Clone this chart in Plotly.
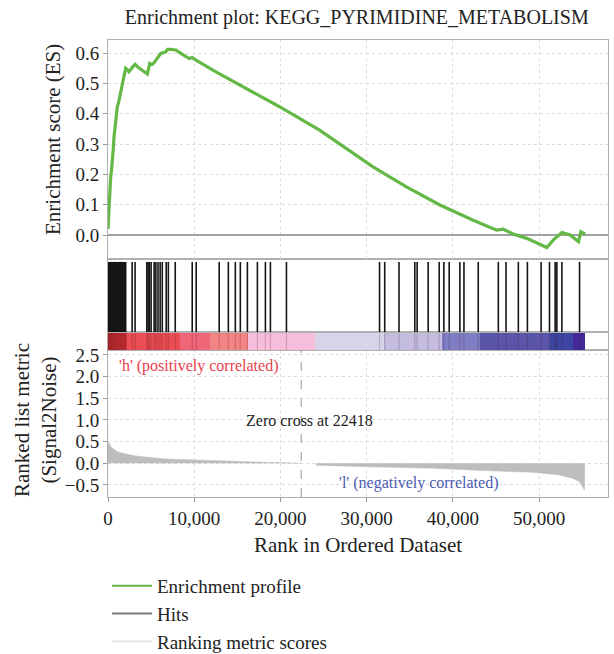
import plotly.graph_objects as go

# ---------------- data ----------------
es_rank = [0, 60, 116, 200, 310, 400, 500, 600, 700, 800, 890, 1000, 1080, 1250, 1470, 1600,
           1740, 1900, 2050, 2250, 2440, 2800, 3140, 3500, 3800, 4200, 4570, 4840, 5100, 5350,
           5740, 6130, 6710, 6900, 7300, 7870, 8450, 9420, 9770, 10200, 12520, 15230, 19890,
           24540, 26860, 29190, 30740, 34620, 38500, 42370, 45080, 45860, 47020, 48570, 50120,
           50900, 51670, 52650, 53610, 54580, 54860, 55360]
es_value = [0.02, 0.06, 0.105, 0.15, 0.19, 0.21, 0.236, 0.28, 0.324, 0.35, 0.38, 0.40, 0.423,
            0.44, 0.467, 0.49, 0.511, 0.53, 0.55, 0.545, 0.538, 0.552, 0.563, 0.553, 0.546, 0.54,
            0.531, 0.566, 0.562, 0.568, 0.582, 0.599, 0.604, 0.612, 0.612, 0.61, 0.599, 0.582,
            0.585, 0.577, 0.538, 0.495, 0.423, 0.346, 0.30, 0.255, 0.225, 0.159, 0.099, 0.049,
            0.016, 0.019, 0.003, -0.011, -0.03, -0.041, -0.016, 0.008, 0.0, -0.022, 0.011, 0.003]

hit_ranks = [30, 80, 150, 220, 300, 380, 450, 520, 600, 700, 780, 850, 950, 1050, 1150, 1250,
             1350, 1450, 1550, 1650, 1750, 1850, 1950, 2050, 2800, 3140, 4500, 4650, 4800, 5000,
             5350, 5550, 5800, 6050, 6300, 6750, 7000, 7800, 9770, 10230, 12900, 13960, 14770,
             15350, 16170, 17330, 18260, 18840, 20700, 31500, 32100, 33760, 35590, 35860, 37140,
             38420, 38960, 39580, 40820, 41290, 42950, 45280, 46170, 47600, 48650, 50240, 51210,
             51870, 52070, 52650, 54700]

metric_pos_rank = [0, 100, 300, 560, 850, 1140, 1500, 1910, 2400, 2880, 3800, 4810, 5800, 6750,
                   8680, 10600, 12930, 14500, 16200, 18500, 20500, 22418]
metric_pos_value = [0.50, 0.45, 0.39, 0.34, 0.30, 0.26, 0.24, 0.22, 0.20, 0.18, 0.155, 0.13,
                    0.115, 0.10, 0.085, 0.07, 0.053, 0.042, 0.03, 0.02, 0.012, 0.0]
metric_neg_rank = [24140, 24150, 29950, 37670, 43470, 49270, 52370, 53920, 54690, 55070, 55270, 55300]
metric_neg_value = [0.0, -0.045, -0.08, -0.115, -0.17, -0.21, -0.27, -0.35, -0.43, -0.54, -0.62, 0.0]

zero_cross = 22418

bar_edges = [0, 2150, 8300, 11800, 16200, 24000, 32000, 38800, 43200, 51300, 53900, 55300]
bar_colors = ['#d6363c', '#ea4d54', '#ef6679', '#f28484', '#f6bedb', '#d7d4ea', '#c3bcdf',
              '#7f7ec4', '#5b55aa', '#3c46a2', '#44299a']

x_ticks = [0, 10000, 20000, 30000, 40000, 50000]

FONT = "'Liberation Serif', 'Times New Roman', Times, serif"
GRID = '#dcdcdc'
AXL = '#b0b0b0'

fig = go.Figure()

# colour bar
n = len(bar_colors)
cs = []
for i, c in enumerate(bar_colors):
    cs.append([i / n, c])
    cs.append([(i + 1) / n, c])
fig.add_trace(go.Heatmap(x=bar_edges, y=[0, 1], z=[[i + 0.5 for i in range(n)]],
                         zmin=0, zmax=n, colorscale=cs, showscale=False,
                         xaxis='x2', yaxis='y2', hoverinfo='skip'))
# faint hit stripes across the colour bar
sx, sy = [], []
for r in hit_ranks:
    sx += [r, r, None]
    sy += [0, 1, None]
fig.add_trace(go.Scatter(x=sx, y=sy, mode='lines', line=dict(color='rgba(60,0,0,0.18)', width=1.2),
                         xaxis='x2', yaxis='y2', showlegend=False, hoverinfo='skip'))

# hits
hx, hy = [], []
for r in hit_ranks:
    hx += [r, r, None]
    hy += [0, 0.96, None]
fig.add_trace(go.Scatter(x=hx, y=hy, mode='lines', line=dict(color='#151515', width=1.6),
                         xaxis='x3', yaxis='y3', showlegend=False, hoverinfo='skip'))

# enrichment profile
fig.add_trace(go.Scatter(x=es_rank, y=es_value, mode='lines', line=dict(color='#63b846', width=3.2),
                         xaxis='x4', yaxis='y4', showlegend=False))

# ranked metric
fig.add_trace(go.Scatter(x=metric_pos_rank, y=metric_pos_value, mode='lines', fill='tozeroy',
                         fillcolor='#bdbdbd', line=dict(color='#bdbdbd', width=0.5),
                         xaxis='x', yaxis='y', showlegend=False))
fig.add_trace(go.Scatter(x=metric_neg_rank, y=metric_neg_value, mode='lines', fill='tozeroy',
                         fillcolor='#bdbdbd', line=dict(color='#bdbdbd', width=0.5),
                         xaxis='x', yaxis='y', showlegend=False))

# legend entries
for name, col in [('Enrichment profile', '#63b846'), ('Hits', '#7a7a7a'),
                  ('Ranking metric scores', '#e6e6e6')]:
    fig.add_trace(go.Scatter(x=[None], y=[None], mode='lines', name=name,
                             line=dict(color=col, width=2), xaxis='x', yaxis='y'))

# zero-cross line
fig.add_shape(type='line', x0=zero_cross, x1=zero_cross, y0=0, y1=1, xref='x', yref='y domain',
              line=dict(color='#a8a8a8', width=1.2, dash='dash'))

d_bot = (497 - 350) / 457
d_bar = (497 - 332) / 457
d_hit = (497 - 259) / 457
XR = [0, 58000]

common_x = dict(range=XR, showline=True, mirror=True, linecolor=AXL, linewidth=1, zeroline=False)
fig.update_layout(
    width=614, height=654,
    margin=dict(l=108, r=6, t=40, b=157, autoexpand=False),
    paper_bgcolor='white', plot_bgcolor='white',
    font=dict(family=FONT, size=19, color='#222'),
    title=dict(text='Enrichment plot: KEGG_PYRIMIDINE_METABOLISM', x=0.581, xanchor='center',
               y=1 - 17 / 654, yanchor='middle', font=dict(size=20, family=FONT, color='#222')),
    xaxis=dict(domain=[0, 1], anchor='y', tickvals=x_ticks, tickformat=',d', ticks='outside',
               ticklen=4, tickcolor='#999', showgrid=True, gridcolor=GRID, griddash='3px,3px',
               **common_x),
    yaxis=dict(domain=[0, d_bot], anchor='x', range=[-0.78, 2.615], tickvals=[-0.5, 0, 0.5, 1, 1.5, 2, 2.5],
               tickformat='.1f', ticks='outside', ticklen=4, tickcolor='#999', showgrid=True,
               gridcolor=GRID, griddash='3px,3px', zeroline=False, showline=True, mirror=True,
               linecolor=AXL),
    xaxis2=dict(domain=[0, 1], anchor='y2', matches='x', showticklabels=False, showgrid=False, **common_x),
    yaxis2=dict(domain=[d_bot, d_bar], anchor='x2', range=[0, 1], showticklabels=False, showgrid=False,
                zeroline=False, showline=True, mirror=True, linecolor=AXL),
    xaxis3=dict(domain=[0, 1], anchor='y3', matches='x', showticklabels=False, showgrid=False, **common_x),
    yaxis3=dict(domain=[d_bar, d_hit], anchor='x3', range=[0, 1], showticklabels=False, showgrid=False,
                zeroline=False, showline=True, mirror=True, linecolor=AXL),
    xaxis4=dict(domain=[0, 1], anchor='y4', matches='x', showticklabels=False, tickvals=x_ticks,
                showgrid=True, gridcolor=GRID, griddash='3px,3px', **common_x),
    yaxis4=dict(domain=[d_hit, 1], anchor='x4', range=[-0.079, 0.643], tickvals=[0, 0.1, 0.2, 0.3, 0.4, 0.5, 0.6],
                tickformat='.1f', ticks='outside', ticklen=4, tickcolor='#999', showgrid=True,
                gridcolor=GRID, griddash='3px,3px', zeroline=True, zerolinecolor='#a0a0a0',
                zerolinewidth=1.5, showline=True, mirror=True, linecolor=AXL),
    legend=dict(x=-0.002, y=(497 - 567) / 457, xanchor='left', yanchor='top', font=dict(size=19),
                itemwidth=40, bgcolor='rgba(0,0,0,0)', tracegroupgap=0),
    showlegend=True,
)

ann = [
    dict(text='Enrichment score (ES)', x=(53 - 108) / 500, y=(497 - 140) / 457, textangle=-90,
         font=dict(size=21)),
    dict(text='Ranked list metric<br>(Signal2Noise)', x=(35 - 108) / 500, y=(497 - 420) / 457,
         textangle=-90, font=dict(size=21)),
    dict(text='Rank in Ordered Dataset', x=(358 - 108) / 500, y=(497 - 545) / 457, font=dict(size=21)),
]
for a in ann:
    fig.add_annotation(xref='paper', yref='paper', showarrow=False, xanchor='center', yanchor='middle', **a)

fig.add_annotation(text="'h' (positively correlated)", x=1100, y=2.25, xref='x', yref='y',
                   xanchor='left', yanchor='middle', showarrow=False,
                   font=dict(size=16, color='#e8404c'))
fig.add_annotation(text='Zero cross at ' + str(zero_cross), x=23370, y=0.98, xref='x', yref='y',
                   xanchor='center', yanchor='middle', showarrow=False, font=dict(size=16, color='#222'))
fig.add_annotation(text="'l' (negatively correlated)", x=36050, y=-0.45, xref='x', yref='y',
                   xanchor='center', yanchor='middle', showarrow=False,
                   font=dict(size=16, color='#4b5bb0'))

fig.write_html('out.html')
